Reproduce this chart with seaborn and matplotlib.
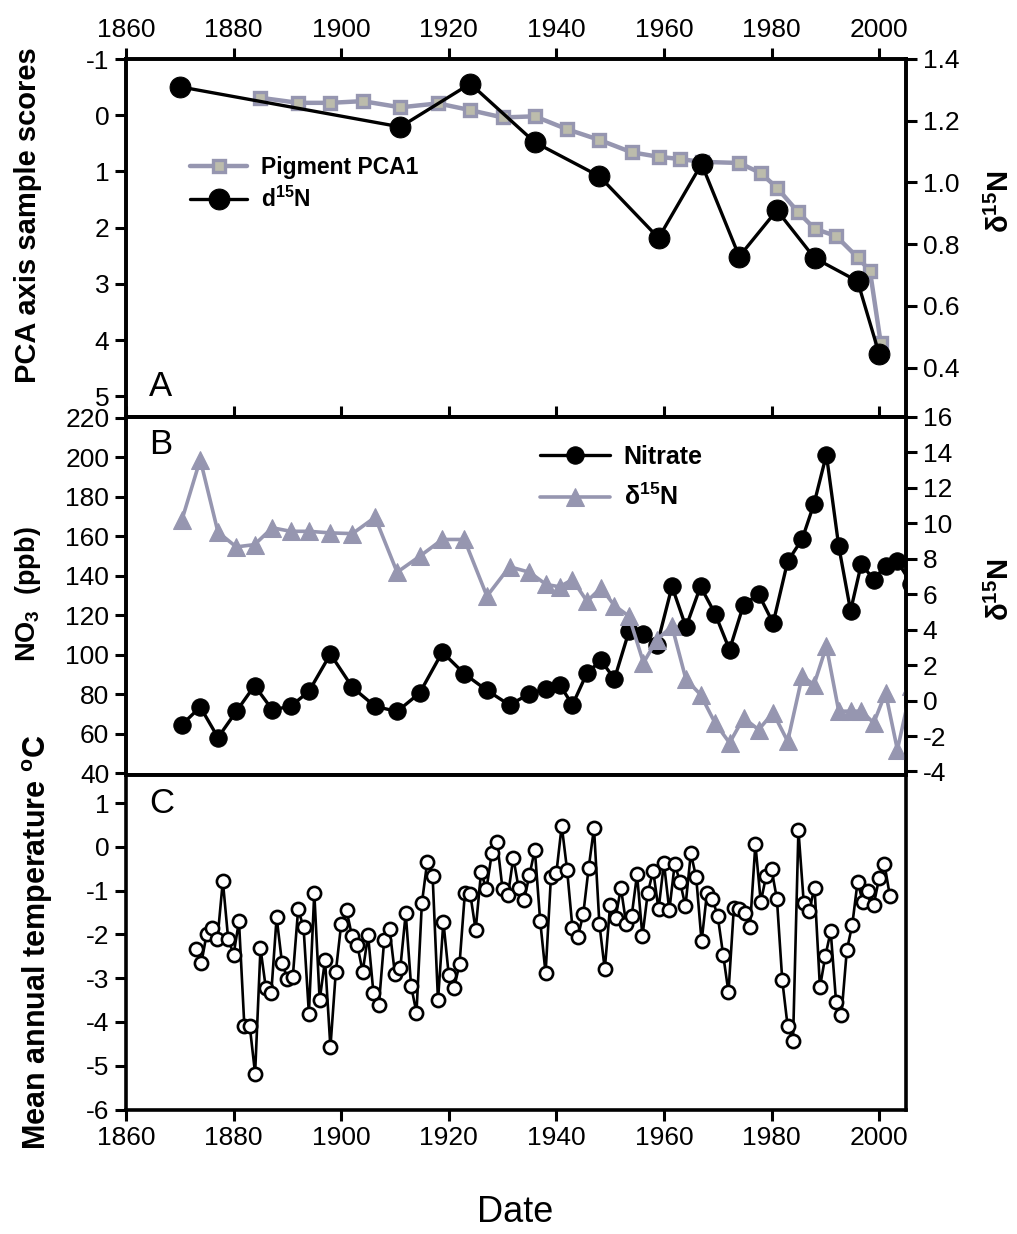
import numpy as np
import pandas as pd
import seaborn as sns
import matplotlib.pyplot as plt

sns.set_style("ticks")
plt.rcParams['font.family'] = ['Liberation Sans', 'DejaVu Sans']
plt.rcParams['mathtext.default'] = 'regular'
plt.rcParams['axes.unicode_minus'] = False
plt.rcParams['text.color'] = 'black'

# Panel A: pigment PCA1 scores (left axis, inverted) and d15N (right axis)
pca_year = [1885, 1892, 1898, 1904, 1911, 1918, 1924, 1930, 1936, 1942, 1948,
            1954, 1959, 1963, 1967, 1974, 1978, 1981, 1985, 1988, 1992, 1996,
            1998.3, 2000.3]
pca_score = [-0.31, -0.22, -0.22, -0.25, -0.14, -0.21, -0.09, 0.04, 0.02, 0.25,
             0.44, 0.66, 0.74, 0.78, 0.83, 0.85, 1.03, 1.29, 1.73, 2.02, 2.15,
             2.53, 2.77, 4.05]
d15n_a_year = [1870, 1911, 1924, 1936, 1948, 1959, 1967, 1974, 1981, 1988, 1996, 2000]
d15n_a = [1.31, 1.18, 1.32, 1.13, 1.02, 0.82, 1.06, 0.76, 0.91, 0.755, 0.68, 0.445]

# Panel B: nitrate (left) and d15N (right)
b_year = [1870.4, 1873.8, 1877.1, 1880.5, 1883.9, 1887.2, 1890.6, 1894.0, 1898.0,
          1902.1, 1906.3, 1910.4, 1914.6, 1918.8, 1922.9, 1927.1, 1931.3, 1935.0,
          1938.1, 1940.6, 1943.0, 1945.7, 1948.3, 1950.8, 1953.5, 1956.2, 1958.7,
          1961.5, 1964.1, 1966.8, 1969.5, 1972.2, 1974.8, 1977.6, 1980.3, 1983.0,
          1985.7, 1987.9, 1990.2, 1992.5, 1994.7, 1996.7, 1999.0, 2001.2, 2003.4,
          2006.0]
nitrate = [64.5, 73.5, 58.0, 71.2, 84.3, 72.1, 73.8, 81.4, 100.3, 83.4, 73.8, 71.2,
           80.6, 101.3, 90.3, 81.9, 74.5, 80.2, 82.7, 84.8, 74.6, 90.7, 97.1, 87.7,
           111.8, 110.6, 104.7, 134.6, 114.0, 134.6, 120.8, 102.5, 125.3, 130.7,
           116.0, 147.3, 158.6, 176.5, 201.4, 154.9, 122.3, 146.1, 138.0, 145.1,
           147.3, 136.0]
d15n_b = [10.2, 13.6, 9.5, 8.67, 8.8, 9.75, 9.55, 9.55, 9.46, 9.42, 10.34, 7.24,
          8.14, 9.09, 9.09, 5.89, 7.55, 7.24, 6.55, 6.42, 6.83, 5.6, 6.36, 5.36,
          4.76, 2.13, 3.44, 4.19, 1.19, 0.34, -1.26, -2.39, -0.98, -1.64, -0.69,
          -2.3, 1.37, 0.9, 3.06, -0.6, -0.6, -0.6, -1.26, 0.43, -2.77, 0.8]

# Panel C: mean annual temperature
temp_year = list(range(1873, 2003))
temp = [-2.34, -2.66, -1.99, -1.85, -2.11, -0.78, -2.11, -2.46, -1.70, -4.09,
        -4.09, -5.18, -2.32, -3.23, -3.35, -1.61, -2.65, -3.01, -2.98, -1.43,
        -1.83, -3.81, -1.05, -3.50, -2.59, -4.58, -2.86, -1.77, -1.45, -2.03,
        -2.25, -2.85, -2.02, -3.34, -3.62, -2.13, -1.88, -2.91, -2.76, -1.52,
        -3.18, -3.79, -1.29, -0.34, -0.67, -3.51, -1.71, -2.93, -3.22, -2.68,
        -1.05, -1.08, -1.90, -0.58, -0.97, -0.15, 0.10, -0.97, -1.11, -0.25,
        -0.95, -1.22, -0.65, -0.07, -1.70, -2.89, -0.68, -0.60, 0.48, -0.53,
        -1.86, -2.06, -1.54, -0.49, 0.43, -1.76, -2.80, -1.34, -1.63, -0.94,
        -1.77, -1.58, -0.63, -2.04, -1.05, -0.55, -1.43, -0.37, -1.45, -0.40,
        -0.80, -1.36, -0.15, -0.70, -2.16, -1.06, -1.19, -1.58, -2.46, -3.32,
        -1.39, -1.41, -1.51, -1.83, 0.06, -1.26, -0.67, -0.51, -1.19, -3.05,
        -4.10, -4.43, 0.38, -1.29, -1.46, -0.93, -3.21, -2.50, -1.93, -3.54,
        -3.84, -2.36, -1.79, -0.80, -1.27, -1.01, -1.32, -0.72, -0.40, -1.12]

grey = '#9696b0'
W_PX, H_PX = 1017, 1234
fig = plt.figure(figsize=(W_PX / 100, H_PX / 100), dpi=100)


def rect(top, bottom, left=126, right=906):
    return [left / W_PX, 1 - bottom / H_PX, (right - left) / W_PX, (bottom - top) / H_PX]


axA = fig.add_axes(rect(59, 417))
axB = fig.add_axes(rect(417, 775))
axC = fig.add_axes(rect(775, 1109.5))
axA2 = axA.twinx()
axB2 = axB.twinx()

# --- panel A
sns.lineplot(x=pca_year, y=pca_score, ax=axA, color=grey, linewidth=3.2,
             marker='s', markersize=9, markerfacecolor='#bcbcac',
             markeredgecolor=grey, markeredgewidth=2.4, legend=False)
sns.lineplot(x=d15n_a_year, y=d15n_a, ax=axA2, color='black', linewidth=2.4,
             marker='o', markersize=15, markeredgecolor='black', legend=False)
axA.set_ylim(5.37, -1)
axA.set_yticks(range(-1, 6))
axA2.set_ylim(0.24, 1.4)
axA2.set_yticks(np.arange(0.4, 1.41, 0.2))
axA2.set_yticklabels(['0.4', '0.6', '0.8', '1.0', '1.2', '1.4'])

# --- panel B
sns.lineplot(x=b_year, y=nitrate, ax=axB, color='black', linewidth=2.4,
             marker='o', markersize=12.5, markeredgecolor='black', legend=False)
sns.lineplot(x=b_year, y=d15n_b, ax=axB2, color=grey, linewidth=2.6,
             marker='^', markersize=13, markeredgecolor=grey, markerfacecolor=grey,
             legend=False)
axB.set_ylim(39, 220.5)
axB.set_yticks(range(40, 221, 20))
axB2.set_ylim(-4.2, 16)
axB2.set_yticks(range(-4, 17, 2))

# --- panel C
sns.lineplot(x=temp_year, y=temp, ax=axC, color='black', linewidth=1.9,
             marker='o', markersize=9.5, markerfacecolor='white',
             markeredgecolor='black', markeredgewidth=1.9, legend=False)
axC.set_ylim(-6, 1.64)
axC.set_yticks(range(-6, 2))

for ax in [axA, axB, axC, axA2, axB2]:
    ax.set_xlim(1860, 2005)
    ax.set_xticks(range(1860, 2001, 20))
    ax.set_xlabel('')
    ax.set_ylabel('')
    for s in ax.spines.values():
        s.set_visible(True)
        s.set_linewidth(2.6)
        s.set_color('black')
    ax.tick_params(axis='both', which='major', length=8, width=2.2,
                   labelsize=19, colors='black', direction='out', pad=4)

axA.tick_params(axis='x', top=True, labeltop=True, bottom=False, labelbottom=False)
axB.tick_params(axis='x', top=True, labeltop=False, bottom=False, labelbottom=False)
axC.tick_params(axis='x', top=False, labeltop=False, bottom=True, labelbottom=True)
for ax in [axA, axB, axC]:
    ax.tick_params(axis='y', left=True, right=False)
for ax in [axA2, axB2]:
    ax.tick_params(axis='y', left=False, right=True, labelright=True)

# panel letters
axA.text(0.03, 0.04, 'A', transform=axA.transAxes, fontsize=25, va='bottom')
axB.text(0.03, 0.97, 'B', transform=axB.transAxes, fontsize=25, va='top')
axC.text(0.03, 0.965, 'C', transform=axC.transAxes, fontsize=25, va='top')

# legends
hA = [axA.get_lines()[0], axA2.get_lines()[0]]
axA2.legend(hA, ['Pigment PCA1', 'd$^{15}$N'], loc='upper left',
            bbox_to_anchor=(190 / W_PX, 1 - 156 / H_PX), bbox_transform=fig.transFigure,
            frameon=False, prop={'weight': 'bold', 'size': 16.5}, handlelength=2.5,
            borderpad=0, borderaxespad=0, labelspacing=0.35, handletextpad=0.6)
hB = [axB.get_lines()[0], axB2.get_lines()[0]]
axB2.legend(hB, ['Nitrate', '\u03b4$^{15}$N'], loc='upper left',
            bbox_to_anchor=(540 / W_PX, 1 - 445 / H_PX), bbox_transform=fig.transFigure,
            frameon=False, prop={'weight': 'bold', 'size': 18}, handlelength=2.8,
            borderpad=0, borderaxespad=0, labelspacing=0.6, handletextpad=0.55)

# axis titles
fig.text(28 / W_PX, 1 - 215 / H_PX, 'PCA axis sample scores', rotation=90,
         fontsize=21, fontweight='bold', ha='center', va='center')
fig.text(28 / W_PX, 1 - 594 / H_PX, 'NO$_3$  (ppb)', rotation=90,
         fontsize=19.5, fontweight='bold', ha='center', va='center')
fig.text(38 / W_PX, 1 - 942 / H_PX, 'Mean annual temperature $^{o}$C', rotation=90,
         fontsize=22, fontweight='bold', ha='center', va='center')
fig.text(1000 / W_PX, 1 - 202 / H_PX, '\u03b4$^{15}$N', rotation=90,
         fontsize=21, fontweight='bold', ha='center', va='center')
fig.text(1000 / W_PX, 1 - 590 / H_PX, '\u03b4$^{15}$N', rotation=90,
         fontsize=21, fontweight='bold', ha='center', va='center')
fig.text(515 / W_PX, 1 - 1213 / H_PX, 'Date', fontsize=26, ha='center', va='center')

fig.savefig('out.png', dpi=100)
